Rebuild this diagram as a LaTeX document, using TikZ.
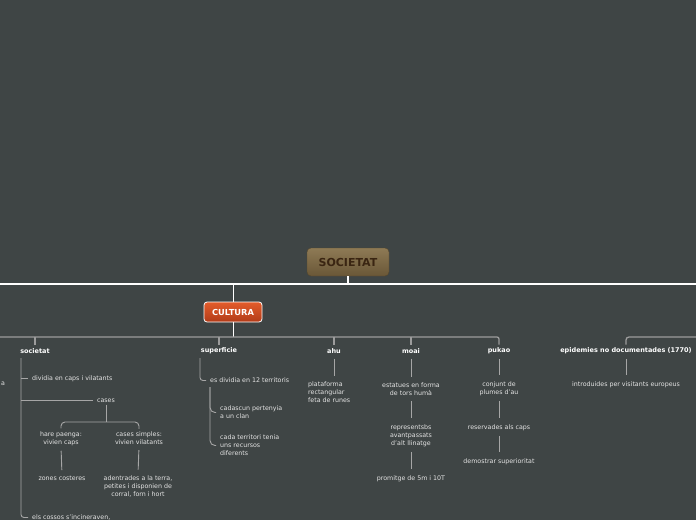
\documentclass[tikz,border=0pt]{standalone}
\usepackage{fontspec}
\setmainfont{DejaVu Sans}
\definecolor{bg}{HTML}{3F4545}
\definecolor{ln}{HTML}{A6A6A6}
\definecolor{bar}{HTML}{9C9C9C}
\definecolor{tx}{HTML}{E4E4E4}
\definecolor{brtop}{HTML}{8E7A55}
\definecolor{brbot}{HTML}{6A5737}
\definecolor{brtx}{HTML}{3A2512}
\definecolor{ortop}{HTML}{E35C2B}
\definecolor{orbot}{HTML}{B23B18}
\begin{document}
\begin{tikzpicture}[x=1pt,y=-1pt,
  lbl/.style={font=\fontsize{6.5}{8}\selectfont\bfseries, text=white, inner sep=1pt},
  txt/.style={font=\fontsize{6.3}{8}\selectfont, text=tx, align=center, inner sep=1pt},
  txtl/.style={txt, align=left},
  conn/.style={draw=ln, line width=0.9pt},
  vconn/.style={conn, shorten <=4pt, shorten >=5pt},
  topbar/.style={draw=white, line width=1.4pt},
  midbar/.style={draw=bar, line width=1.3pt}]
\useasboundingbox (0,0) rectangle (696,520);
\fill[bg] (0,0) rectangle (696,520);

% root nodes
\node[rounded corners=4pt, top color=brtop, bottom color=brbot, draw=brbot!80!black,
      minimum width=82pt, minimum height=28pt, inner sep=0pt,
      font=\fontsize{11}{13}\selectfont\bfseries, text=brtx] (root) at (348,262) {SOCIETAT};
\node[rounded corners=3pt, top color=ortop, bottom color=orbot, draw=white, line width=0.8pt,
      minimum width=58pt, minimum height=20pt, inner sep=0pt,
      font=\fontsize{8.3}{10}\selectfont\bfseries, text=white] (cult) at (233,312) {CULTURA};

\coordinate (tb) at (348,284);
\coordinate (tbL) at (0,284);
\coordinate (tbR) at (696,284);
\draw[topbar] (tbL) -- (tbR);
\draw[topbar] (root.south) -- (tb);
\draw[topbar, line width=1pt] (cult.north |- tb) -- (cult.north);

% level-2 labels
\node[lbl] (soc) at (35,351) {societat};
\node[lbl] (sup) at (219,351) {superficie};
\node[lbl] (ahu) at (334,351) {ahu};
\node[lbl] (moai) at (411,351) {moai};
\node[lbl] (puk) at (499,351) {pukao};
\node[lbl] (epi) at (626,351) {epidemies no documentades (1770)};

\coordinate (mb) at (0,337);
\draw[topbar, line width=1pt] (cult.south) -- (cult.south |- mb);
\draw[midbar, rounded corners=2pt] (mb) -| ([yshift=2pt]puk.north);
\foreach \n in {soc,sup,ahu,moai} \draw[midbar] (\n.north |- mb) -- ([yshift=2pt]\n.north);
\coordinate (epR) at (698,337);
\draw[midbar, rounded corners=3pt] ([yshift=2pt]epi.north) |- (epR);

% societat subtree
\node[txt, anchor=west] (a) at (0,384) {a};
\node[txt, anchor=west] (s1) at (31,378.5) {dividia en caps i vilatants};
\node[txt] (cas) at (106,400.5) {cases};
\node[txt, anchor=west] (s3) at (31,517.5) {els cossos s'incineraven,};
\coordinate (sv) at (21,358);
\draw[conn, rounded corners=3pt] (sv) |- ([xshift=-3pt]s3.west);
\draw[conn] (sv |- s1) -- ([xshift=-3pt]s1.west);
\draw[conn] (sv |- cas) -- ([xshift=-3pt]cas.west);

\node[txt] (hp) at (61,438.5) {hare paenga:\\vivien caps};
\node[txt] (cs) at (139,438.5) {cases simples:\\vivien vilatants};
\coordinate (br) at (106,422);
\draw[conn] (cas.south) ++(0,-1pt) -- (br);
\draw[conn, rounded corners=4pt] ([yshift=2pt]hp.north) |- (br) -| ([yshift=2pt]cs.north);
\node[txt] (zc) at (62,478.5) {zones costeres};
\node[txt] (ad) at (138,486.5) {adentrades a la terra,\\petites i disponien de\\corral, forn i hort};
\draw[vconn] (hp.south) -- (zc.north);
\draw[vconn] (cs.south) -- (ad.north);

% superficie subtree
\node[txt, anchor=west] (e1) at (209,380.5) {es dividia en 12 territoris};
\draw[conn, rounded corners=3pt] (200,358) |- ([xshift=-3pt]e1.west);
\node[txtl, anchor=west] (c1) at (219,412.5) {cadascun pertenyia\\a un clan};
\node[txtl, anchor=west] (c2) at (219,445.5) {cada territori tenia\\uns recursos\\diferents};
\coordinate (ev) at (210,387);
\draw[conn, rounded corners=5pt] (ev) |- ([xshift=-3pt]c1.west);
\draw[conn, rounded corners=5pt] (ev) |- ([xshift=-3pt]c2.west);

% ahu
\node[txtl, anchor=north west] (ah1) at (307,381) {plataforma\\rectangular\\feta de runes};
\draw[vconn] (ahu.south) -- (ahu.south |- ah1.north);

% moai
\node[txt] (m1) at (411,389.5) {estatues en forma\\de tors humà};
\node[txt] (m2) at (411,435.5) {representsbs\\avantpassats\\d'alt llinatge};
\node[txt] (m3) at (411,478.5) {promitge de 5m i 10T};
\draw[vconn] (moai.south) -- (m1.north);
\draw[vconn] (m1.south) -- (m2.north);
\draw[vconn] (m2.south) -- (m3.north);

% pukao
\node[txt] (p1) at (499,388.5) {conjunt de\\plumes d'au};
\node[txt] (p2) at (499,427.5) {reservades als caps};
\node[txt] (p3) at (499,461.5) {demostrar superioritat};
\draw[vconn] (puk.south) -- (p1.north);
\draw[vconn] (p1.south) -- (p2.north);
\draw[vconn] (p2.south) -- (p3.north);

% epidemies
\node[txt] (ep1) at (626,384.5) {introduides per visitants europeus};
\draw[vconn] (epi.south) -- (ep1.north);
\end{tikzpicture}
\end{document}
